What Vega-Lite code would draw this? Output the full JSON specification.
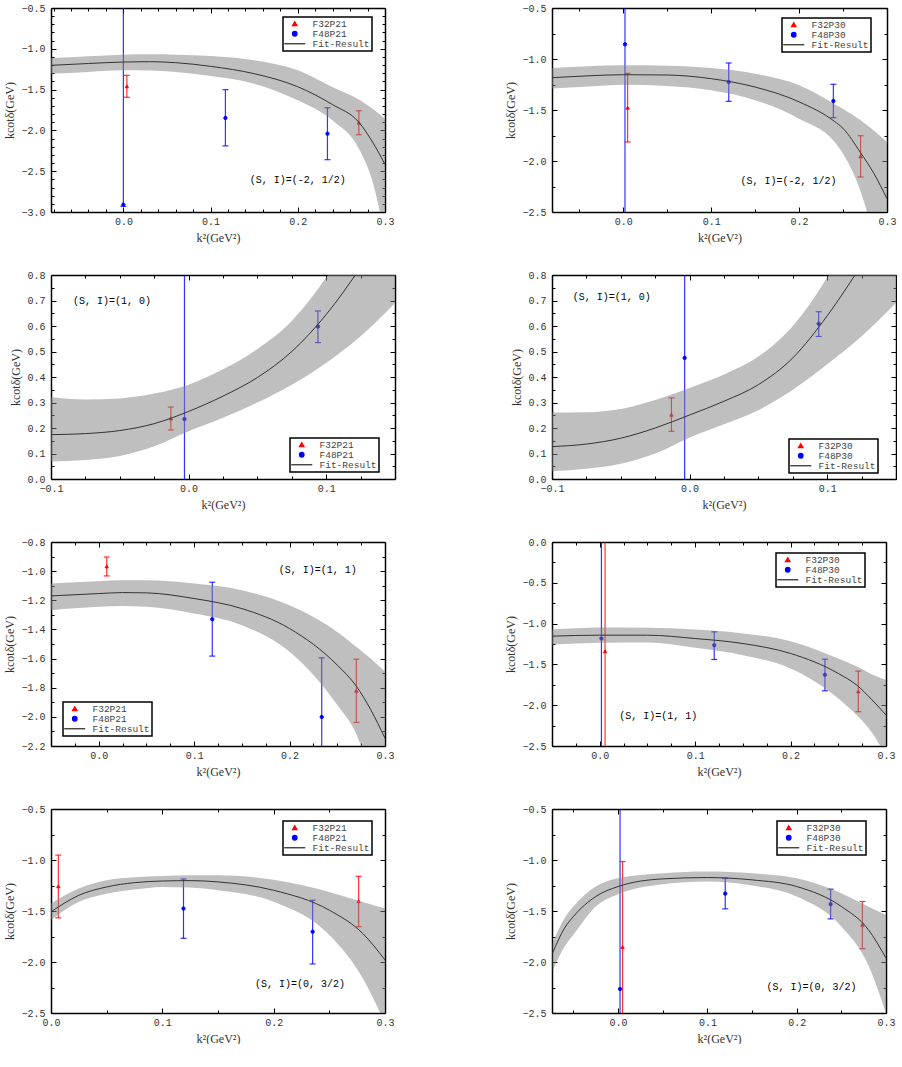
{
"$schema": "https://vega.github.io/schema/vega-lite/v6.json",
"background": "white",
"padding": {"left": 3, "top": 3, "right": 0, "bottom": 0},
"config": {
  "view": {"stroke": null},
  "axis": {"domainColor": "black", "domainWidth": 1.5, "tickColor": "black", "tickWidth": 1, "labelFont": "Liberation Mono", "labelFontSize": 10, "labelColor": "#333333", "titleFont": "Liberation Serif", "titleFontSize": 12, "titleFontWeight": "normal", "titleColor": "#333333", "grid": false, "labelFlush": false, "labelOverlap": false, "labelBound": false},
  "legend": {"labelFont": "Liberation Mono", "labelFontSize": 9.5, "labelColor": "#444444", "strokeColor": "black", "strokeWidth": 1.5, "fillColor": "white", "padding": 2, "rowPadding": -1.5, "symbolSize": 20, "symbolOffset": 5, "labelOffset": 13}
},
"datasets": {
  "pts": [
    {"p":1,"s":"F48P21","k":1,"x":0.0,"y":-2.91,"lo":-2.93,"hi":0.5},
    {"p":1,"s":"F32P21","k":0,"x":0.004,"y":-1.46,"lo":-1.594,"hi":-1.325},
    {"p":1,"s":"F48P21","k":1,"x":0.117,"y":-1.848,"lo":-2.19,"hi":-1.501},
    {"p":1,"s":"F48P21","k":1,"x":0.234,"y":-2.04,"lo":-2.359,"hi":-1.722},
    {"p":1,"s":"F32P21","k":0,"x":0.27,"y":-1.905,"lo":-2.053,"hi":-1.759},
    {"p":2,"s":"F48P30","k":1,"x":0.002,"y":-0.856,"lo":-3.5,"hi":1.0},
    {"p":2,"s":"F32P30","k":0,"x":0.005,"y":-1.477,"lo":-1.814,"hi":-1.14},
    {"p":2,"s":"F48P30","k":1,"x":0.12,"y":-1.225,"lo":-1.415,"hi":-1.039},
    {"p":2,"s":"F48P30","k":1,"x":0.239,"y":-1.412,"lo":-1.575,"hi":-1.248},
    {"p":2,"s":"F32P30","k":0,"x":0.27,"y":-1.954,"lo":-2.157,"hi":-1.752},
    {"p":3,"s":"F32P21","k":0,"x":-0.0129,"y":0.2375,"lo":0.192,"hi":0.282},
    {"p":3,"s":"F48P21","k":1,"x":-0.003,"y":0.235,"lo":-1,"hi":2},
    {"p":3,"s":"F48P21","k":1,"x":0.094,"y":0.598,"lo":0.535,"hi":0.659},
    {"p":4,"s":"F32P30","k":0,"x":-0.0132,"y":0.252,"lo":0.187,"hi":0.318},
    {"p":4,"s":"F48P30","k":1,"x":-0.0036,"y":0.475,"lo":-1,"hi":2},
    {"p":4,"s":"F48P30","k":1,"x":0.0938,"y":0.609,"lo":0.559,"hi":0.656},
    {"p":5,"s":"F32P21","k":0,"x":0.0084,"y":-0.967,"lo":-1.033,"hi":-0.903},
    {"p":5,"s":"F48P21","k":1,"x":0.119,"y":-1.33,"lo":-1.583,"hi":-1.076},
    {"p":5,"s":"F48P21","k":1,"x":0.2337,"y":-2.001,"lo":-2.6,"hi":-1.595},
    {"p":5,"s":"F32P21","k":0,"x":0.27,"y":-1.821,"lo":-2.038,"hi":-1.604},
    {"p":6,"s":"F48P30","k":1,"x":0.0018,"y":-1.183,"lo":-3.5,"hi":1},
    {"p":6,"s":"F32P30","k":0,"x":0.0056,"y":-1.338,"lo":-3.5,"hi":1},
    {"p":6,"s":"F48P30","k":1,"x":0.12,"y":-1.264,"lo":-1.44,"hi":-1.101},
    {"p":6,"s":"F48P30","k":1,"x":0.236,"y":-1.627,"lo":-1.823,"hi":-1.436},
    {"p":6,"s":"F32P30","k":0,"x":0.271,"y":-1.831,"lo":-2.08,"hi":-1.582},
    {"p":7,"s":"F32P21","k":0,"x":0.0066,"y":-1.258,"lo":-1.567,"hi":-0.952},
    {"p":7,"s":"F48P21","k":1,"x":0.119,"y":-1.476,"lo":-1.768,"hi":-1.186},
    {"p":7,"s":"F48P21","k":1,"x":0.235,"y":-1.703,"lo":-2.019,"hi":-1.394},
    {"p":7,"s":"F32P21","k":0,"x":0.2763,"y":-1.404,"lo":-1.654,"hi":-1.16},
    {"p":8,"s":"F48P30","k":1,"x":0.0022,"y":-2.265,"lo":-3.5,"hi":1},
    {"p":8,"s":"F32P30","k":0,"x":0.005,"y":-1.854,"lo":-3.0,"hi":-1.015},
    {"p":8,"s":"F48P30","k":1,"x":0.12,"y":-1.329,"lo":-1.479,"hi":-1.179},
    {"p":8,"s":"F48P30","k":1,"x":0.238,"y":-1.433,"lo":-1.577,"hi":-1.286},
    {"p":8,"s":"F32P30","k":0,"x":0.2736,"y":-1.635,"lo":-1.87,"hi":-1.407}
  ],
  "fit": [
    {"p":1,"x":-0.083,"y":-1.203,"lo":-1.305,"hi":-1.113},
    {"p":1,"x":-0.04,"y":-1.18,"lo":-1.283,"hi":-1.09},
    {"p":1,"x":0,"y":-1.162,"lo":-1.264,"hi":-1.072},
    {"p":1,"x":0.03,"y":-1.158,"lo":-1.265,"hi":-1.068},
    {"p":1,"x":0.06,"y":-1.17,"lo":-1.285,"hi":-1.072},
    {"p":1,"x":0.1,"y":-1.215,"lo":-1.333,"hi":-1.088},
    {"p":1,"x":0.15,"y":-1.305,"lo":-1.427,"hi":-1.141},
    {"p":1,"x":0.2,"y":-1.465,"lo":-1.632,"hi":-1.264},
    {"p":1,"x":0.24,"y":-1.685,"lo":-1.88,"hi":-1.47},
    {"p":1,"x":0.27,"y":-1.9,"lo":-2.224,"hi":-1.62},
    {"p":1,"x":0.285,"y":-2.13,"lo":-2.6,"hi":-1.73},
    {"p":1,"x":0.3,"y":-2.416,"lo":-3.3,"hi":-1.856},
    {"p":2,"x":-0.081,"y":-1.183,"lo":-1.29,"hi":-1.088},
    {"p":2,"x":-0.04,"y":-1.165,"lo":-1.27,"hi":-1.07},
    {"p":2,"x":0,"y":-1.154,"lo":-1.252,"hi":-1.062},
    {"p":2,"x":0.05,"y":-1.157,"lo":-1.265,"hi":-1.065},
    {"p":2,"x":0.1,"y":-1.193,"lo":-1.307,"hi":-1.088},
    {"p":2,"x":0.15,"y":-1.275,"lo":-1.405,"hi":-1.144},
    {"p":2,"x":0.2,"y":-1.42,"lo":-1.585,"hi":-1.258},
    {"p":2,"x":0.24,"y":-1.61,"lo":-1.81,"hi":-1.44},
    {"p":2,"x":0.25,"y":-1.68,"lo":-1.93,"hi":-1.49},
    {"p":2,"x":0.27,"y":-1.92,"lo":-2.3,"hi":-1.6},
    {"p":2,"x":0.285,"y":-2.12,"lo":-2.75,"hi":-1.7},
    {"p":2,"x":0.3,"y":-2.37,"lo":-3.3,"hi":-1.814},
    {"p":3,"x":-0.1,"y":0.174,"lo":0.069,"hi":0.322},
    {"p":3,"x":-0.075,"y":0.178,"lo":0.075,"hi":0.312},
    {"p":3,"x":-0.05,"y":0.19,"lo":0.09,"hi":0.316},
    {"p":3,"x":-0.025,"y":0.217,"lo":0.128,"hi":0.335},
    {"p":3,"x":0,"y":0.265,"lo":0.187,"hi":0.37},
    {"p":3,"x":0.025,"y":0.325,"lo":0.24,"hi":0.43},
    {"p":3,"x":0.05,"y":0.398,"lo":0.3,"hi":0.51},
    {"p":3,"x":0.075,"y":0.5,"lo":0.37,"hi":0.62},
    {"p":3,"x":0.1,"y":0.645,"lo":0.455,"hi":0.79},
    {"p":3,"x":0.125,"y":0.83,"lo":0.56,"hi":1.0},
    {"p":3,"x":0.15,"y":1.04,"lo":0.69,"hi":1.25},
    {"p":4,"x":-0.1,"y":0.127,"lo":0.03,"hi":0.261},
    {"p":4,"x":-0.075,"y":0.137,"lo":0.04,"hi":0.262},
    {"p":4,"x":-0.05,"y":0.16,"lo":0.06,"hi":0.275},
    {"p":4,"x":-0.025,"y":0.2,"lo":0.1,"hi":0.31},
    {"p":4,"x":0,"y":0.251,"lo":0.163,"hi":0.357},
    {"p":4,"x":0.025,"y":0.305,"lo":0.215,"hi":0.41},
    {"p":4,"x":0.05,"y":0.37,"lo":0.27,"hi":0.48},
    {"p":4,"x":0.075,"y":0.475,"lo":0.35,"hi":0.6},
    {"p":4,"x":0.1,"y":0.64,"lo":0.45,"hi":0.79},
    {"p":4,"x":0.125,"y":0.84,"lo":0.56,"hi":1.03},
    {"p":4,"x":0.15,"y":1.06,"lo":0.69,"hi":1.28},
    {"p":5,"x":-0.05,"y":-1.17,"lo":-1.268,"hi":-1.085},
    {"p":5,"x":0,"y":-1.154,"lo":-1.245,"hi":-1.069},
    {"p":5,"x":0.025,"y":-1.147,"lo":-1.24,"hi":-1.063},
    {"p":5,"x":0.05,"y":-1.149,"lo":-1.245,"hi":-1.063},
    {"p":5,"x":0.1,"y":-1.188,"lo":-1.291,"hi":-1.085},
    {"p":5,"x":0.15,"y":-1.257,"lo":-1.371,"hi":-1.131},
    {"p":5,"x":0.2,"y":-1.394,"lo":-1.554,"hi":-1.234},
    {"p":5,"x":0.25,"y":-1.645,"lo":-1.919,"hi":-1.417},
    {"p":5,"x":0.27,"y":-1.79,"lo":-2.12,"hi":-1.52},
    {"p":5,"x":0.285,"y":-1.95,"lo":-2.4,"hi":-1.6},
    {"p":5,"x":0.3,"y":-2.147,"lo":-2.7,"hi":-1.69},
    {"p":6,"x":-0.05,"y":-1.154,"lo":-1.256,"hi":-1.073},
    {"p":6,"x":0,"y":-1.142,"lo":-1.236,"hi":-1.048},
    {"p":6,"x":0.05,"y":-1.142,"lo":-1.232,"hi":-1.052},
    {"p":6,"x":0.1,"y":-1.183,"lo":-1.297,"hi":-1.073},
    {"p":6,"x":0.15,"y":-1.244,"lo":-1.387,"hi":-1.12},
    {"p":6,"x":0.2,"y":-1.366,"lo":-1.55,"hi":-1.215},
    {"p":6,"x":0.25,"y":-1.611,"lo":-1.917,"hi":-1.427},
    {"p":6,"x":0.27,"y":-1.76,"lo":-2.13,"hi":-1.53},
    {"p":6,"x":0.285,"y":-1.93,"lo":-2.33,"hi":-1.62},
    {"p":6,"x":0.3,"y":-2.12,"lo":-2.62,"hi":-1.692},
    {"p":7,"x":0,"y":-1.508,"lo":-1.589,"hi":-1.427},
    {"p":7,"x":0.025,"y":-1.346,"lo":-1.41,"hi":-1.28},
    {"p":7,"x":0.05,"y":-1.264,"lo":-1.33,"hi":-1.199},
    {"p":7,"x":0.075,"y":-1.222,"lo":-1.29,"hi":-1.17},
    {"p":7,"x":0.1,"y":-1.206,"lo":-1.264,"hi":-1.157},
    {"p":7,"x":0.125,"y":-1.202,"lo":-1.27,"hi":-1.15},
    {"p":7,"x":0.15,"y":-1.215,"lo":-1.297,"hi":-1.15},
    {"p":7,"x":0.2,"y":-1.297,"lo":-1.41,"hi":-1.193},
    {"p":7,"x":0.25,"y":-1.492,"lo":-1.736,"hi":-1.313},
    {"p":7,"x":0.28,"y":-1.72,"lo":-2.159,"hi":-1.411},
    {"p":7,"x":0.3,"y":-1.98,"lo":-2.6,"hi":-1.476},
    {"p":8,"x":-0.0734,"y":-1.913,"lo":-2.092,"hi":-1.815},
    {"p":8,"x":-0.06,"y":-1.668,"lo":-1.848,"hi":-1.57},
    {"p":8,"x":-0.05,"y":-1.554,"lo":-1.733,"hi":-1.456},
    {"p":8,"x":-0.025,"y":-1.358,"lo":-1.456,"hi":-1.26},
    {"p":8,"x":0,"y":-1.26,"lo":-1.335,"hi":-1.179},
    {"p":8,"x":0.05,"y":-1.185,"lo":-1.237,"hi":-1.13},
    {"p":8,"x":0.1,"y":-1.172,"lo":-1.211,"hi":-1.113},
    {"p":8,"x":0.15,"y":-1.195,"lo":-1.25,"hi":-1.13},
    {"p":8,"x":0.2,"y":-1.26,"lo":-1.358,"hi":-1.179},
    {"p":8,"x":0.25,"y":-1.456,"lo":-1.652,"hi":-1.325},
    {"p":8,"x":0.28,"y":-1.68,"lo":-2.027,"hi":-1.456},
    {"p":8,"x":0.3,"y":-1.962,"lo":-2.5,"hi":-1.538}
  ],
  "ann": [
    {"p":1,"x":0.2,"y":-2.612,"t":"(S, I)=(-2, 1/2)"},
    {"p":2,"x":0.188,"y":-2.199,"t":"(S, I)=(-2, 1/2)"},
    {"p":3,"x":-0.0557,"y":0.698,"t":"(S, I)=(1, 0)"},
    {"p":4,"x":-0.0566,"y":0.715,"t":"(S, I)=(1, 0)"},
    {"p":5,"x":0.2295,"y":-0.994,"t":"(S, I)=(1, 1)"},
    {"p":6,"x":0.0613,"y":-2.129,"t":"(S, I)=(1, 1)"},
    {"p":7,"x":0.2237,"y":-2.217,"t":"(S, I)=(0, 3/2)"},
    {"p":8,"x":0.2166,"y":-2.242,"t":"(S, I)=(0, 3/2)"}
  ]
},
"columns": 2,
"spacing": {"row": 63, "column": 157},
"bounds": "flush",
"resolve": {"scale": {"fill": "independent", "stroke": "independent", "shape": "independent"}, "legend": {"fill": "independent", "stroke": "independent", "shape": "independent"}},
"concat": [
{
"width": 334, "height": 204,
"resolve": {"axis": {"x": "independent", "y": "independent"}},
"encoding": {"x": {"field": "x", "type": "quantitative", "scale": {"domain": [-0.083, 0.3], "nice": false, "zero": false}, "axis": null}},
"layer": [
 {"data": {"name": "pts"}, "transform": [{"filter": "datum.p==1"}], "mark": {"type": "rule", "clip": true, "strokeWidth": 1.2, "opacity": 0.8}, "encoding": {
   "x": {"field": "x", "type": "quantitative", "title": "k²(GeV²)", "scale": {"domain": [-0.083, 0.3], "nice": false, "zero": false}, "axis": {"orient": "bottom", "values": [-0.08,-0.06,-0.04,-0.02,0,0.02,0.04,0.06,0.08,0.1,0.12,0.14,0.16,0.18,0.2,0.22,0.24,0.26,0.28,0.3], "labelExpr": "abs(datum.value*10-round(datum.value*10))<0.001 ? format(datum.value,'.1f') : ''", "tickSize": {"condition": {"test": "abs(datum.value*10-round(datum.value*10))<0.001", "value": -5}, "value": -3}, "labelPadding": 9}},
   "y": {"field": "lo", "type": "quantitative", "title": "kcotδ(GeV)", "scale": {"domain": [-3, -0.5], "nice": false, "zero": false}, "axis": {"orient": "left", "values": [-3,-2.9,-2.8,-2.7,-2.6,-2.5,-2.4,-2.3,-2.2,-2.1,-2,-1.9,-1.8,-1.7,-1.6,-1.5,-1.4,-1.3,-1.2,-1.1,-1,-0.9,-0.8,-0.7,-0.6,-0.5], "labelExpr": "abs(datum.value*2-round(datum.value*2))<0.001 ? format(datum.value,'.1f') : ''", "tickSize": {"condition": {"test": "abs(datum.value*2-round(datum.value*2))<0.001", "value": -5}, "value": -3}, "labelPadding": 11}},
   "y2": {"field": "hi"}, "color": {"condition": {"test": "datum.k==0", "value": "#ff0000"}, "value": "#0000ff"}}},
 {"data": {"name": "pts"}, "transform": [{"filter": "datum.p==1"}, {"fold": ["lo", "hi"], "as": ["end", "v"]}], "mark": {"type": "tick", "orient": "horizontal", "clip": true, "size": 6, "thickness": 1.2, "opacity": 0.8}, "encoding": {"y": {"field": "v", "type": "quantitative", "scale": {"domain": [-3, -0.5], "nice": false, "zero": false}, "axis": null}, "color": {"condition": {"test": "datum.k==0", "value": "#ff0000"}, "value": "#0000ff"}}},
 {"data": {"name": "pts"}, "transform": [{"filter": "datum.p==1"}], "mark": {"type": "point", "size": 12, "strokeWidth": 0.8, "opacity": 1, "clip": true}, "encoding": {"y": {"field": "y", "type": "quantitative", "scale": {"domain": [-3, -0.5], "nice": false, "zero": false}, "axis": null},
   "fill": {"field": "s", "type": "nominal", "scale": {"domain": ["F32P21", "F48P21", "Fit-Result"], "range": ["#ff0000", "#0000ff", "#333333"]}, "legend": {"orient": "none", "legendX": 232, "legendY": 9, "title": null, "symbolStrokeWidth": 1.3}},
   "stroke": {"field": "s", "type": "nominal", "scale": {"domain": ["F32P21", "F48P21", "Fit-Result"], "range": ["#ff0000", "#0000ff", "#333333"]}, "legend": {"orient": "none", "legendX": 232, "legendY": 9, "title": null, "symbolStrokeWidth": 1.3}},
   "shape": {"field": "s", "type": "nominal", "scale": {"domain": ["F32P21", "F48P21", "Fit-Result"], "range": ["triangle-up", "circle", "M-4.7,0H4.7"]}, "legend": {"orient": "none", "legendX": 232, "legendY": 9, "title": null, "symbolStrokeWidth": 1.3}}}},
 {"data": {"name": "fit"}, "transform": [{"filter": "datum.p==1"}], "mark": {"type": "area", "clip": true, "color": "#808080", "opacity": 0.5, "interpolate": "monotone"}, "encoding": {"y": {"field": "lo", "type": "quantitative", "scale": {"domain": [-3, -0.5], "nice": false, "zero": false}, "axis": null}, "y2": {"field": "hi"}}},
 {"data": {"name": "fit"}, "transform": [{"filter": "datum.p==1"}], "mark": {"type": "line", "clip": true, "color": "#333333", "strokeWidth": 1, "interpolate": "monotone"}, "encoding": {"y": {"field": "y", "type": "quantitative", "scale": {"domain": [-3, -0.5], "nice": false, "zero": false}, "axis": null}}},
 {"data": {"name": "ann"}, "transform": [{"filter": "datum.p==1"}], "mark": {"type": "text", "font": "Liberation Mono", "fontSize": 10, "color": "black"}, "encoding": {
   "x": {"field": "x", "type": "quantitative", "scale": {"domain": [-0.083, 0.3], "nice": false, "zero": false}, "axis": {"orient": "top", "values": [-0.08,-0.06,-0.04,-0.02,0,0.02,0.04,0.06,0.08,0.1,0.12,0.14,0.16,0.18,0.2,0.22,0.24,0.26,0.28,0.3], "labels": false, "title": null, "tickSize": {"condition": {"test": "abs(datum.value*10-round(datum.value*10))<0.001", "value": -5}, "value": -3}}},
   "y": {"field": "y", "type": "quantitative", "scale": {"domain": [-3, -0.5], "nice": false, "zero": false}, "axis": {"orient": "right", "values": [-3,-2.9,-2.8,-2.7,-2.6,-2.5,-2.4,-2.3,-2.2,-2.1,-2,-1.9,-1.8,-1.7,-1.6,-1.5,-1.4,-1.3,-1.2,-1.1,-1,-0.9,-0.8,-0.7,-0.6,-0.5], "labels": false, "title": null, "tickSize": {"condition": {"test": "abs(datum.value*2-round(datum.value*2))<0.001", "value": -5}, "value": -3}}},
   "text": {"field": "t"}}}
]
},
{
"width": 335, "height": 204,
"resolve": {"axis": {"x": "independent", "y": "independent"}},
"encoding": {"x": {"field": "x", "type": "quantitative", "scale": {"domain": [-0.081, 0.3], "nice": false, "zero": false}, "axis": null}},
"layer": [
 {"data": {"name": "pts"}, "transform": [{"filter": "datum.p==2"}], "mark": {"type": "rule", "clip": true, "strokeWidth": 1.2, "opacity": 0.8}, "encoding": {
   "x": {"field": "x", "type": "quantitative", "title": "k²(GeV²)", "scale": {"domain": [-0.081, 0.3], "nice": false, "zero": false}, "axis": {"orient": "bottom", "values": [-0.05,0,0.05,0.1,0.15,0.2,0.25,0.3], "labelExpr": "abs(datum.value*10-round(datum.value*10))<0.001 ? format(datum.value,'.1f') : ''", "tickSize": {"condition": {"test": "abs(datum.value*10-round(datum.value*10))<0.001", "value": -5}, "value": -3}, "labelPadding": 9}},
   "y": {"field": "lo", "type": "quantitative", "title": "kcotδ(GeV)", "scale": {"domain": [-2.5, -0.5], "nice": false, "zero": false}, "axis": {"orient": "left", "values": [-2.5,-2.25,-2,-1.75,-1.5,-1.25,-1,-0.75,-0.5], "labelExpr": "abs(datum.value*2-round(datum.value*2))<0.001 ? format(datum.value,'.1f') : ''", "tickSize": {"condition": {"test": "abs(datum.value*2-round(datum.value*2))<0.001", "value": -5}, "value": -3}, "labelPadding": 11}},
   "y2": {"field": "hi"}, "color": {"condition": {"test": "datum.k==0", "value": "#ff0000"}, "value": "#0000ff"}}},
 {"data": {"name": "pts"}, "transform": [{"filter": "datum.p==2"}, {"fold": ["lo", "hi"], "as": ["end", "v"]}], "mark": {"type": "tick", "orient": "horizontal", "clip": true, "size": 6, "thickness": 1.2, "opacity": 0.8}, "encoding": {"y": {"field": "v", "type": "quantitative", "scale": {"domain": [-2.5, -0.5], "nice": false, "zero": false}, "axis": null}, "color": {"condition": {"test": "datum.k==0", "value": "#ff0000"}, "value": "#0000ff"}}},
 {"data": {"name": "pts"}, "transform": [{"filter": "datum.p==2"}], "mark": {"type": "point", "size": 12, "strokeWidth": 0.8, "opacity": 1, "clip": true}, "encoding": {"y": {"field": "y", "type": "quantitative", "scale": {"domain": [-2.5, -0.5], "nice": false, "zero": false}, "axis": null},
   "fill": {"field": "s", "type": "nominal", "scale": {"domain": ["F32P30", "F48P30", "Fit-Result"], "range": ["#ff0000", "#0000ff", "#333333"]}, "legend": {"orient": "none", "legendX": 230, "legendY": 10, "title": null, "symbolStrokeWidth": 1.3}},
   "stroke": {"field": "s", "type": "nominal", "scale": {"domain": ["F32P30", "F48P30", "Fit-Result"], "range": ["#ff0000", "#0000ff", "#333333"]}, "legend": {"orient": "none", "legendX": 230, "legendY": 10, "title": null, "symbolStrokeWidth": 1.3}},
   "shape": {"field": "s", "type": "nominal", "scale": {"domain": ["F32P30", "F48P30", "Fit-Result"], "range": ["triangle-up", "circle", "M-4.7,0H4.7"]}, "legend": {"orient": "none", "legendX": 230, "legendY": 10, "title": null, "symbolStrokeWidth": 1.3}}}},
 {"data": {"name": "fit"}, "transform": [{"filter": "datum.p==2"}], "mark": {"type": "area", "clip": true, "color": "#808080", "opacity": 0.5, "interpolate": "monotone"}, "encoding": {"y": {"field": "lo", "type": "quantitative", "scale": {"domain": [-2.5, -0.5], "nice": false, "zero": false}, "axis": null}, "y2": {"field": "hi"}}},
 {"data": {"name": "fit"}, "transform": [{"filter": "datum.p==2"}], "mark": {"type": "line", "clip": true, "color": "#333333", "strokeWidth": 1, "interpolate": "monotone"}, "encoding": {"y": {"field": "y", "type": "quantitative", "scale": {"domain": [-2.5, -0.5], "nice": false, "zero": false}, "axis": null}}},
 {"data": {"name": "ann"}, "transform": [{"filter": "datum.p==2"}], "mark": {"type": "text", "font": "Liberation Mono", "fontSize": 10, "color": "black"}, "encoding": {
   "x": {"field": "x", "type": "quantitative", "scale": {"domain": [-0.081, 0.3], "nice": false, "zero": false}, "axis": {"orient": "top", "values": [-0.05,0,0.05,0.1,0.15,0.2,0.25,0.3], "labels": false, "title": null, "tickSize": {"condition": {"test": "abs(datum.value*10-round(datum.value*10))<0.001", "value": -5}, "value": -3}}},
   "y": {"field": "y", "type": "quantitative", "scale": {"domain": [-2.5, -0.5], "nice": false, "zero": false}, "axis": {"orient": "right", "values": [-2.5,-2.25,-2,-1.75,-1.5,-1.25,-1,-0.75,-0.5], "labels": false, "title": null, "tickSize": {"condition": {"test": "abs(datum.value*2-round(datum.value*2))<0.001", "value": -5}, "value": -3}}},
   "text": {"field": "t"}}}
]
},
{
"width": 344, "height": 204,
"resolve": {"axis": {"x": "independent", "y": "independent"}},
"encoding": {"x": {"field": "x", "type": "quantitative", "scale": {"domain": [-0.1, 0.15], "nice": false, "zero": false}, "axis": null}},
"layer": [
 {"data": {"name": "pts"}, "transform": [{"filter": "datum.p==3"}], "mark": {"type": "rule", "clip": true, "strokeWidth": 1.2, "opacity": 0.8}, "encoding": {
   "x": {"field": "x", "type": "quantitative", "title": "k²(GeV²)", "scale": {"domain": [-0.1, 0.15], "nice": false, "zero": false}, "axis": {"orient": "bottom", "values": [-0.1,-0.075,-0.05,-0.025,0,0.025,0.05,0.075,0.1,0.125,0.15], "labelExpr": "abs(datum.value*10-round(datum.value*10))<0.001 ? format(datum.value,'.1f') : ''", "tickSize": {"condition": {"test": "abs(datum.value*10-round(datum.value*10))<0.001", "value": -5}, "value": -3}, "labelPadding": 9}},
   "y": {"field": "lo", "type": "quantitative", "title": "kcotδ(GeV)", "scale": {"domain": [0, 0.8], "nice": false, "zero": false}, "axis": {"orient": "left", "values": [0,0.05,0.1,0.15,0.2,0.25,0.3,0.35,0.4,0.45,0.5,0.55,0.6,0.65,0.7,0.75,0.8], "labelExpr": "abs(datum.value*10-round(datum.value*10))<0.001 ? format(datum.value,'.1f') : ''", "tickSize": {"condition": {"test": "abs(datum.value*10-round(datum.value*10))<0.001", "value": -5}, "value": -3}, "labelPadding": 11}},
   "y2": {"field": "hi"}, "color": {"condition": {"test": "datum.k==0", "value": "#ff0000"}, "value": "#0000ff"}}},
 {"data": {"name": "pts"}, "transform": [{"filter": "datum.p==3"}, {"fold": ["lo", "hi"], "as": ["end", "v"]}], "mark": {"type": "tick", "orient": "horizontal", "clip": true, "size": 6, "thickness": 1.2, "opacity": 0.8}, "encoding": {"y": {"field": "v", "type": "quantitative", "scale": {"domain": [0, 0.8], "nice": false, "zero": false}, "axis": null}, "color": {"condition": {"test": "datum.k==0", "value": "#ff0000"}, "value": "#0000ff"}}},
 {"data": {"name": "pts"}, "transform": [{"filter": "datum.p==3"}], "mark": {"type": "point", "size": 12, "strokeWidth": 0.8, "opacity": 1, "clip": true}, "encoding": {"y": {"field": "y", "type": "quantitative", "scale": {"domain": [0, 0.8], "nice": false, "zero": false}, "axis": null},
   "fill": {"field": "s", "type": "nominal", "scale": {"domain": ["F32P21", "F48P21", "Fit-Result"], "range": ["#ff0000", "#0000ff", "#333333"]}, "legend": {"orient": "none", "legendX": 239, "legendY": 163, "title": null, "symbolStrokeWidth": 1.3}},
   "stroke": {"field": "s", "type": "nominal", "scale": {"domain": ["F32P21", "F48P21", "Fit-Result"], "range": ["#ff0000", "#0000ff", "#333333"]}, "legend": {"orient": "none", "legendX": 239, "legendY": 163, "title": null, "symbolStrokeWidth": 1.3}},
   "shape": {"field": "s", "type": "nominal", "scale": {"domain": ["F32P21", "F48P21", "Fit-Result"], "range": ["triangle-up", "circle", "M-4.7,0H4.7"]}, "legend": {"orient": "none", "legendX": 239, "legendY": 163, "title": null, "symbolStrokeWidth": 1.3}}}},
 {"data": {"name": "fit"}, "transform": [{"filter": "datum.p==3"}], "mark": {"type": "area", "clip": true, "color": "#808080", "opacity": 0.5, "interpolate": "monotone"}, "encoding": {"y": {"field": "lo", "type": "quantitative", "scale": {"domain": [0, 0.8], "nice": false, "zero": false}, "axis": null}, "y2": {"field": "hi"}}},
 {"data": {"name": "fit"}, "transform": [{"filter": "datum.p==3"}], "mark": {"type": "line", "clip": true, "color": "#333333", "strokeWidth": 1, "interpolate": "monotone"}, "encoding": {"y": {"field": "y", "type": "quantitative", "scale": {"domain": [0, 0.8], "nice": false, "zero": false}, "axis": null}}},
 {"data": {"name": "ann"}, "transform": [{"filter": "datum.p==3"}], "mark": {"type": "text", "font": "Liberation Mono", "fontSize": 10, "color": "black"}, "encoding": {
   "x": {"field": "x", "type": "quantitative", "scale": {"domain": [-0.1, 0.15], "nice": false, "zero": false}, "axis": {"orient": "top", "values": [-0.1,-0.075,-0.05,-0.025,0,0.025,0.05,0.075,0.1,0.125,0.15], "labels": false, "title": null, "tickSize": {"condition": {"test": "abs(datum.value*10-round(datum.value*10))<0.001", "value": -5}, "value": -3}}},
   "y": {"field": "y", "type": "quantitative", "scale": {"domain": [0, 0.8], "nice": false, "zero": false}, "axis": {"orient": "right", "values": [0,0.05,0.1,0.15,0.2,0.25,0.3,0.35,0.4,0.45,0.5,0.55,0.6,0.65,0.7,0.75,0.8], "labels": false, "title": null, "tickSize": {"condition": {"test": "abs(datum.value*10-round(datum.value*10))<0.001", "value": -5}, "value": -3}}},
   "text": {"field": "t"}}}
]
},
{
"width": 344, "height": 204,
"resolve": {"axis": {"x": "independent", "y": "independent"}},
"encoding": {"x": {"field": "x", "type": "quantitative", "scale": {"domain": [-0.1, 0.15], "nice": false, "zero": false}, "axis": null}},
"layer": [
 {"data": {"name": "pts"}, "transform": [{"filter": "datum.p==4"}], "mark": {"type": "rule", "clip": true, "strokeWidth": 1.2, "opacity": 0.8}, "encoding": {
   "x": {"field": "x", "type": "quantitative", "title": "k²(GeV²)", "scale": {"domain": [-0.1, 0.15], "nice": false, "zero": false}, "axis": {"orient": "bottom", "values": [-0.1,-0.075,-0.05,-0.025,0,0.025,0.05,0.075,0.1,0.125,0.15], "labelExpr": "abs(datum.value*10-round(datum.value*10))<0.001 ? format(datum.value,'.1f') : ''", "tickSize": {"condition": {"test": "abs(datum.value*10-round(datum.value*10))<0.001", "value": -5}, "value": -3}, "labelPadding": 9}},
   "y": {"field": "lo", "type": "quantitative", "title": "kcotδ(GeV)", "scale": {"domain": [0, 0.8], "nice": false, "zero": false}, "axis": {"orient": "left", "values": [0,0.05,0.1,0.15,0.2,0.25,0.3,0.35,0.4,0.45,0.5,0.55,0.6,0.65,0.7,0.75,0.8], "labelExpr": "abs(datum.value*10-round(datum.value*10))<0.001 ? format(datum.value,'.1f') : ''", "tickSize": {"condition": {"test": "abs(datum.value*10-round(datum.value*10))<0.001", "value": -5}, "value": -3}, "labelPadding": 11}},
   "y2": {"field": "hi"}, "color": {"condition": {"test": "datum.k==0", "value": "#ff0000"}, "value": "#0000ff"}}},
 {"data": {"name": "pts"}, "transform": [{"filter": "datum.p==4"}, {"fold": ["lo", "hi"], "as": ["end", "v"]}], "mark": {"type": "tick", "orient": "horizontal", "clip": true, "size": 6, "thickness": 1.2, "opacity": 0.8}, "encoding": {"y": {"field": "v", "type": "quantitative", "scale": {"domain": [0, 0.8], "nice": false, "zero": false}, "axis": null}, "color": {"condition": {"test": "datum.k==0", "value": "#ff0000"}, "value": "#0000ff"}}},
 {"data": {"name": "pts"}, "transform": [{"filter": "datum.p==4"}], "mark": {"type": "point", "size": 12, "strokeWidth": 0.8, "opacity": 1, "clip": true}, "encoding": {"y": {"field": "y", "type": "quantitative", "scale": {"domain": [0, 0.8], "nice": false, "zero": false}, "axis": null},
   "fill": {"field": "s", "type": "nominal", "scale": {"domain": ["F32P30", "F48P30", "Fit-Result"], "range": ["#ff0000", "#0000ff", "#333333"]}, "legend": {"orient": "none", "legendX": 237, "legendY": 164, "title": null, "symbolStrokeWidth": 1.3}},
   "stroke": {"field": "s", "type": "nominal", "scale": {"domain": ["F32P30", "F48P30", "Fit-Result"], "range": ["#ff0000", "#0000ff", "#333333"]}, "legend": {"orient": "none", "legendX": 237, "legendY": 164, "title": null, "symbolStrokeWidth": 1.3}},
   "shape": {"field": "s", "type": "nominal", "scale": {"domain": ["F32P30", "F48P30", "Fit-Result"], "range": ["triangle-up", "circle", "M-4.7,0H4.7"]}, "legend": {"orient": "none", "legendX": 237, "legendY": 164, "title": null, "symbolStrokeWidth": 1.3}}}},
 {"data": {"name": "fit"}, "transform": [{"filter": "datum.p==4"}], "mark": {"type": "area", "clip": true, "color": "#808080", "opacity": 0.5, "interpolate": "monotone"}, "encoding": {"y": {"field": "lo", "type": "quantitative", "scale": {"domain": [0, 0.8], "nice": false, "zero": false}, "axis": null}, "y2": {"field": "hi"}}},
 {"data": {"name": "fit"}, "transform": [{"filter": "datum.p==4"}], "mark": {"type": "line", "clip": true, "color": "#333333", "strokeWidth": 1, "interpolate": "monotone"}, "encoding": {"y": {"field": "y", "type": "quantitative", "scale": {"domain": [0, 0.8], "nice": false, "zero": false}, "axis": null}}},
 {"data": {"name": "ann"}, "transform": [{"filter": "datum.p==4"}], "mark": {"type": "text", "font": "Liberation Mono", "fontSize": 10, "color": "black"}, "encoding": {
   "x": {"field": "x", "type": "quantitative", "scale": {"domain": [-0.1, 0.15], "nice": false, "zero": false}, "axis": {"orient": "top", "values": [-0.1,-0.075,-0.05,-0.025,0,0.025,0.05,0.075,0.1,0.125,0.15], "labels": false, "title": null, "tickSize": {"condition": {"test": "abs(datum.value*10-round(datum.value*10))<0.001", "value": -5}, "value": -3}}},
   "y": {"field": "y", "type": "quantitative", "scale": {"domain": [0, 0.8], "nice": false, "zero": false}, "axis": {"orient": "right", "values": [0,0.05,0.1,0.15,0.2,0.25,0.3,0.35,0.4,0.45,0.5,0.55,0.6,0.65,0.7,0.75,0.8], "labels": false, "title": null, "tickSize": {"condition": {"test": "abs(datum.value*10-round(datum.value*10))<0.001", "value": -5}, "value": -3}}},
   "text": {"field": "t"}}}
]
},
{
"width": 334, "height": 204,
"resolve": {"axis": {"x": "independent", "y": "independent"}},
"encoding": {"x": {"field": "x", "type": "quantitative", "scale": {"domain": [-0.05, 0.3], "nice": false, "zero": false}, "axis": null}},
"layer": [
 {"data": {"name": "pts"}, "transform": [{"filter": "datum.p==5"}], "mark": {"type": "rule", "clip": true, "strokeWidth": 1.2, "opacity": 0.8}, "encoding": {
   "x": {"field": "x", "type": "quantitative", "title": "k²(GeV²)", "scale": {"domain": [-0.05, 0.3], "nice": false, "zero": false}, "axis": {"orient": "bottom", "values": [-0.05,-0.025,0,0.025,0.05,0.075,0.1,0.125,0.15,0.175,0.2,0.225,0.25,0.275,0.3], "labelExpr": "abs(datum.value*10-round(datum.value*10))<0.001 ? format(datum.value,'.1f') : ''", "tickSize": {"condition": {"test": "abs(datum.value*10-round(datum.value*10))<0.001", "value": -5}, "value": -3}, "labelPadding": 9}},
   "y": {"field": "lo", "type": "quantitative", "title": "kcotδ(GeV)", "scale": {"domain": [-2.2, -0.8], "nice": false, "zero": false}, "axis": {"orient": "left", "values": [-2.2,-2.1,-2,-1.9,-1.8,-1.7,-1.6,-1.5,-1.4,-1.3,-1.2,-1.1,-1,-0.9,-0.8], "labelExpr": "abs(datum.value*5-round(datum.value*5))<0.001 ? format(datum.value,'.1f') : ''", "tickSize": {"condition": {"test": "abs(datum.value*5-round(datum.value*5))<0.001", "value": -5}, "value": -3}, "labelPadding": 11}},
   "y2": {"field": "hi"}, "color": {"condition": {"test": "datum.k==0", "value": "#ff0000"}, "value": "#0000ff"}}},
 {"data": {"name": "pts"}, "transform": [{"filter": "datum.p==5"}, {"fold": ["lo", "hi"], "as": ["end", "v"]}], "mark": {"type": "tick", "orient": "horizontal", "clip": true, "size": 6, "thickness": 1.2, "opacity": 0.8}, "encoding": {"y": {"field": "v", "type": "quantitative", "scale": {"domain": [-2.2, -0.8], "nice": false, "zero": false}, "axis": null}, "color": {"condition": {"test": "datum.k==0", "value": "#ff0000"}, "value": "#0000ff"}}},
 {"data": {"name": "pts"}, "transform": [{"filter": "datum.p==5"}], "mark": {"type": "point", "size": 12, "strokeWidth": 0.8, "opacity": 1, "clip": true}, "encoding": {"y": {"field": "y", "type": "quantitative", "scale": {"domain": [-2.2, -0.8], "nice": false, "zero": false}, "axis": null},
   "fill": {"field": "s", "type": "nominal", "scale": {"domain": ["F32P21", "F48P21", "Fit-Result"], "range": ["#ff0000", "#0000ff", "#333333"]}, "legend": {"orient": "none", "legendX": 12, "legendY": 160, "title": null, "symbolStrokeWidth": 1.3}},
   "stroke": {"field": "s", "type": "nominal", "scale": {"domain": ["F32P21", "F48P21", "Fit-Result"], "range": ["#ff0000", "#0000ff", "#333333"]}, "legend": {"orient": "none", "legendX": 12, "legendY": 160, "title": null, "symbolStrokeWidth": 1.3}},
   "shape": {"field": "s", "type": "nominal", "scale": {"domain": ["F32P21", "F48P21", "Fit-Result"], "range": ["triangle-up", "circle", "M-4.7,0H4.7"]}, "legend": {"orient": "none", "legendX": 12, "legendY": 160, "title": null, "symbolStrokeWidth": 1.3}}}},
 {"data": {"name": "fit"}, "transform": [{"filter": "datum.p==5"}], "mark": {"type": "area", "clip": true, "color": "#808080", "opacity": 0.5, "interpolate": "monotone"}, "encoding": {"y": {"field": "lo", "type": "quantitative", "scale": {"domain": [-2.2, -0.8], "nice": false, "zero": false}, "axis": null}, "y2": {"field": "hi"}}},
 {"data": {"name": "fit"}, "transform": [{"filter": "datum.p==5"}], "mark": {"type": "line", "clip": true, "color": "#333333", "strokeWidth": 1, "interpolate": "monotone"}, "encoding": {"y": {"field": "y", "type": "quantitative", "scale": {"domain": [-2.2, -0.8], "nice": false, "zero": false}, "axis": null}}},
 {"data": {"name": "ann"}, "transform": [{"filter": "datum.p==5"}], "mark": {"type": "text", "font": "Liberation Mono", "fontSize": 10, "color": "black"}, "encoding": {
   "x": {"field": "x", "type": "quantitative", "scale": {"domain": [-0.05, 0.3], "nice": false, "zero": false}, "axis": {"orient": "top", "values": [-0.05,-0.025,0,0.025,0.05,0.075,0.1,0.125,0.15,0.175,0.2,0.225,0.25,0.275,0.3], "labels": false, "title": null, "tickSize": {"condition": {"test": "abs(datum.value*10-round(datum.value*10))<0.001", "value": -5}, "value": -3}}},
   "y": {"field": "y", "type": "quantitative", "scale": {"domain": [-2.2, -0.8], "nice": false, "zero": false}, "axis": {"orient": "right", "values": [-2.2,-2.1,-2,-1.9,-1.8,-1.7,-1.6,-1.5,-1.4,-1.3,-1.2,-1.1,-1,-0.9,-0.8], "labels": false, "title": null, "tickSize": {"condition": {"test": "abs(datum.value*5-round(datum.value*5))<0.001", "value": -5}, "value": -3}}},
   "text": {"field": "t"}}}
]
},
{
"width": 334, "height": 204,
"resolve": {"axis": {"x": "independent", "y": "independent"}},
"encoding": {"x": {"field": "x", "type": "quantitative", "scale": {"domain": [-0.05, 0.3], "nice": false, "zero": false}, "axis": null}},
"layer": [
 {"data": {"name": "pts"}, "transform": [{"filter": "datum.p==6"}], "mark": {"type": "rule", "clip": true, "strokeWidth": 1.2, "opacity": 0.8}, "encoding": {
   "x": {"field": "x", "type": "quantitative", "title": "k²(GeV²)", "scale": {"domain": [-0.05, 0.3], "nice": false, "zero": false}, "axis": {"orient": "bottom", "values": [-0.05,-0.025,0,0.025,0.05,0.075,0.1,0.125,0.15,0.175,0.2,0.225,0.25,0.275,0.3], "labelExpr": "abs(datum.value*10-round(datum.value*10))<0.001 ? format(datum.value,'.1f') : ''", "tickSize": {"condition": {"test": "abs(datum.value*10-round(datum.value*10))<0.001", "value": -5}, "value": -3}, "labelPadding": 9}},
   "y": {"field": "lo", "type": "quantitative", "title": "kcotδ(GeV)", "scale": {"domain": [-2.5, 0], "nice": false, "zero": false}, "axis": {"orient": "left", "values": [-2.5,-2.25,-2,-1.75,-1.5,-1.25,-1,-0.75,-0.5,-0.25,0], "labelExpr": "abs(datum.value*2-round(datum.value*2))<0.001 ? format(datum.value,'.1f') : ''", "tickSize": {"condition": {"test": "abs(datum.value*2-round(datum.value*2))<0.001", "value": -5}, "value": -3}, "labelPadding": 11}},
   "y2": {"field": "hi"}, "color": {"condition": {"test": "datum.k==0", "value": "#ff0000"}, "value": "#0000ff"}}},
 {"data": {"name": "pts"}, "transform": [{"filter": "datum.p==6"}, {"fold": ["lo", "hi"], "as": ["end", "v"]}], "mark": {"type": "tick", "orient": "horizontal", "clip": true, "size": 6, "thickness": 1.2, "opacity": 0.8}, "encoding": {"y": {"field": "v", "type": "quantitative", "scale": {"domain": [-2.5, 0], "nice": false, "zero": false}, "axis": null}, "color": {"condition": {"test": "datum.k==0", "value": "#ff0000"}, "value": "#0000ff"}}},
 {"data": {"name": "pts"}, "transform": [{"filter": "datum.p==6"}], "mark": {"type": "point", "size": 12, "strokeWidth": 0.8, "opacity": 1, "clip": true}, "encoding": {"y": {"field": "y", "type": "quantitative", "scale": {"domain": [-2.5, 0], "nice": false, "zero": false}, "axis": null},
   "fill": {"field": "s", "type": "nominal", "scale": {"domain": ["F32P30", "F48P30", "Fit-Result"], "range": ["#ff0000", "#0000ff", "#333333"]}, "legend": {"orient": "none", "legendX": 224, "legendY": 11, "title": null, "symbolStrokeWidth": 1.3}},
   "stroke": {"field": "s", "type": "nominal", "scale": {"domain": ["F32P30", "F48P30", "Fit-Result"], "range": ["#ff0000", "#0000ff", "#333333"]}, "legend": {"orient": "none", "legendX": 224, "legendY": 11, "title": null, "symbolStrokeWidth": 1.3}},
   "shape": {"field": "s", "type": "nominal", "scale": {"domain": ["F32P30", "F48P30", "Fit-Result"], "range": ["triangle-up", "circle", "M-4.7,0H4.7"]}, "legend": {"orient": "none", "legendX": 224, "legendY": 11, "title": null, "symbolStrokeWidth": 1.3}}}},
 {"data": {"name": "fit"}, "transform": [{"filter": "datum.p==6"}], "mark": {"type": "area", "clip": true, "color": "#808080", "opacity": 0.5, "interpolate": "monotone"}, "encoding": {"y": {"field": "lo", "type": "quantitative", "scale": {"domain": [-2.5, 0], "nice": false, "zero": false}, "axis": null}, "y2": {"field": "hi"}}},
 {"data": {"name": "fit"}, "transform": [{"filter": "datum.p==6"}], "mark": {"type": "line", "clip": true, "color": "#333333", "strokeWidth": 1, "interpolate": "monotone"}, "encoding": {"y": {"field": "y", "type": "quantitative", "scale": {"domain": [-2.5, 0], "nice": false, "zero": false}, "axis": null}}},
 {"data": {"name": "ann"}, "transform": [{"filter": "datum.p==6"}], "mark": {"type": "text", "font": "Liberation Mono", "fontSize": 10, "color": "black"}, "encoding": {
   "x": {"field": "x", "type": "quantitative", "scale": {"domain": [-0.05, 0.3], "nice": false, "zero": false}, "axis": {"orient": "top", "values": [-0.05,-0.025,0,0.025,0.05,0.075,0.1,0.125,0.15,0.175,0.2,0.225,0.25,0.275,0.3], "labels": false, "title": null, "tickSize": {"condition": {"test": "abs(datum.value*10-round(datum.value*10))<0.001", "value": -5}, "value": -3}}},
   "y": {"field": "y", "type": "quantitative", "scale": {"domain": [-2.5, 0], "nice": false, "zero": false}, "axis": {"orient": "right", "values": [-2.5,-2.25,-2,-1.75,-1.5,-1.25,-1,-0.75,-0.5,-0.25,0], "labels": false, "title": null, "tickSize": {"condition": {"test": "abs(datum.value*2-round(datum.value*2))<0.001", "value": -5}, "value": -3}}},
   "text": {"field": "t"}}}
]
},
{
"width": 334, "height": 204,
"resolve": {"axis": {"x": "independent", "y": "independent"}},
"encoding": {"x": {"field": "x", "type": "quantitative", "scale": {"domain": [0, 0.3], "nice": false, "zero": false}, "axis": null}},
"layer": [
 {"data": {"name": "pts"}, "transform": [{"filter": "datum.p==7"}], "mark": {"type": "rule", "clip": true, "strokeWidth": 1.2, "opacity": 0.8}, "encoding": {
   "x": {"field": "x", "type": "quantitative", "title": "k²(GeV²)", "scale": {"domain": [0, 0.3], "nice": false, "zero": false}, "axis": {"orient": "bottom", "values": [0,0.05,0.1,0.15,0.2,0.25,0.3], "labelExpr": "abs(datum.value*10-round(datum.value*10))<0.001 ? format(datum.value,'.1f') : ''", "tickSize": {"condition": {"test": "abs(datum.value*10-round(datum.value*10))<0.001", "value": -5}, "value": -3}, "labelPadding": 9}},
   "y": {"field": "lo", "type": "quantitative", "title": "kcotδ(GeV)", "scale": {"domain": [-2.5, -0.5], "nice": false, "zero": false}, "axis": {"orient": "left", "values": [-2.5,-2.25,-2,-1.75,-1.5,-1.25,-1,-0.75,-0.5], "labelExpr": "abs(datum.value*2-round(datum.value*2))<0.001 ? format(datum.value,'.1f') : ''", "tickSize": {"condition": {"test": "abs(datum.value*2-round(datum.value*2))<0.001", "value": -5}, "value": -3}, "labelPadding": 11}},
   "y2": {"field": "hi"}, "color": {"condition": {"test": "datum.k==0", "value": "#ff0000"}, "value": "#0000ff"}}},
 {"data": {"name": "pts"}, "transform": [{"filter": "datum.p==7"}, {"fold": ["lo", "hi"], "as": ["end", "v"]}], "mark": {"type": "tick", "orient": "horizontal", "clip": true, "size": 6, "thickness": 1.2, "opacity": 0.8}, "encoding": {"y": {"field": "v", "type": "quantitative", "scale": {"domain": [-2.5, -0.5], "nice": false, "zero": false}, "axis": null}, "color": {"condition": {"test": "datum.k==0", "value": "#ff0000"}, "value": "#0000ff"}}},
 {"data": {"name": "pts"}, "transform": [{"filter": "datum.p==7"}], "mark": {"type": "point", "size": 12, "strokeWidth": 0.8, "opacity": 1, "clip": true}, "encoding": {"y": {"field": "y", "type": "quantitative", "scale": {"domain": [-2.5, -0.5], "nice": false, "zero": false}, "axis": null},
   "fill": {"field": "s", "type": "nominal", "scale": {"domain": ["F32P21", "F48P21", "Fit-Result"], "range": ["#ff0000", "#0000ff", "#333333"]}, "legend": {"orient": "none", "legendX": 232, "legendY": 12, "title": null, "symbolStrokeWidth": 1.3}},
   "stroke": {"field": "s", "type": "nominal", "scale": {"domain": ["F32P21", "F48P21", "Fit-Result"], "range": ["#ff0000", "#0000ff", "#333333"]}, "legend": {"orient": "none", "legendX": 232, "legendY": 12, "title": null, "symbolStrokeWidth": 1.3}},
   "shape": {"field": "s", "type": "nominal", "scale": {"domain": ["F32P21", "F48P21", "Fit-Result"], "range": ["triangle-up", "circle", "M-4.7,0H4.7"]}, "legend": {"orient": "none", "legendX": 232, "legendY": 12, "title": null, "symbolStrokeWidth": 1.3}}}},
 {"data": {"name": "fit"}, "transform": [{"filter": "datum.p==7"}], "mark": {"type": "area", "clip": true, "color": "#808080", "opacity": 0.5, "interpolate": "monotone"}, "encoding": {"y": {"field": "lo", "type": "quantitative", "scale": {"domain": [-2.5, -0.5], "nice": false, "zero": false}, "axis": null}, "y2": {"field": "hi"}}},
 {"data": {"name": "fit"}, "transform": [{"filter": "datum.p==7"}], "mark": {"type": "line", "clip": true, "color": "#333333", "strokeWidth": 1, "interpolate": "monotone"}, "encoding": {"y": {"field": "y", "type": "quantitative", "scale": {"domain": [-2.5, -0.5], "nice": false, "zero": false}, "axis": null}}},
 {"data": {"name": "ann"}, "transform": [{"filter": "datum.p==7"}], "mark": {"type": "text", "font": "Liberation Mono", "fontSize": 10, "color": "black"}, "encoding": {
   "x": {"field": "x", "type": "quantitative", "scale": {"domain": [0, 0.3], "nice": false, "zero": false}, "axis": {"orient": "top", "values": [0,0.05,0.1,0.15,0.2,0.25,0.3], "labels": false, "title": null, "tickSize": {"condition": {"test": "abs(datum.value*10-round(datum.value*10))<0.001", "value": -5}, "value": -3}}},
   "y": {"field": "y", "type": "quantitative", "scale": {"domain": [-2.5, -0.5], "nice": false, "zero": false}, "axis": {"orient": "right", "values": [-2.5,-2.25,-2,-1.75,-1.5,-1.25,-1,-0.75,-0.5], "labels": false, "title": null, "tickSize": {"condition": {"test": "abs(datum.value*2-round(datum.value*2))<0.001", "value": -5}, "value": -3}}},
   "text": {"field": "t"}}}
]
},
{
"width": 334, "height": 204,
"resolve": {"axis": {"x": "independent", "y": "independent"}},
"encoding": {"x": {"field": "x", "type": "quantitative", "scale": {"domain": [-0.074, 0.3], "nice": false, "zero": false}, "axis": null}},
"layer": [
 {"data": {"name": "pts"}, "transform": [{"filter": "datum.p==8"}], "mark": {"type": "rule", "clip": true, "strokeWidth": 1.2, "opacity": 0.8}, "encoding": {
   "x": {"field": "x", "type": "quantitative", "title": "k²(GeV²)", "scale": {"domain": [-0.074, 0.3], "nice": false, "zero": false}, "axis": {"orient": "bottom", "values": [-0.05,0,0.05,0.1,0.15,0.2,0.25,0.3], "labelExpr": "abs(datum.value*10-round(datum.value*10))<0.001 ? format(datum.value,'.1f') : ''", "tickSize": {"condition": {"test": "abs(datum.value*10-round(datum.value*10))<0.001", "value": -5}, "value": -3}, "labelPadding": 9}},
   "y": {"field": "lo", "type": "quantitative", "title": "kcotδ(GeV)", "scale": {"domain": [-2.5, -0.5], "nice": false, "zero": false}, "axis": {"orient": "left", "values": [-2.5,-2.25,-2,-1.75,-1.5,-1.25,-1,-0.75,-0.5], "labelExpr": "abs(datum.value*2-round(datum.value*2))<0.001 ? format(datum.value,'.1f') : ''", "tickSize": {"condition": {"test": "abs(datum.value*2-round(datum.value*2))<0.001", "value": -5}, "value": -3}, "labelPadding": 11}},
   "y2": {"field": "hi"}, "color": {"condition": {"test": "datum.k==0", "value": "#ff0000"}, "value": "#0000ff"}}},
 {"data": {"name": "pts"}, "transform": [{"filter": "datum.p==8"}, {"fold": ["lo", "hi"], "as": ["end", "v"]}], "mark": {"type": "tick", "orient": "horizontal", "clip": true, "size": 6, "thickness": 1.2, "opacity": 0.8}, "encoding": {"y": {"field": "v", "type": "quantitative", "scale": {"domain": [-2.5, -0.5], "nice": false, "zero": false}, "axis": null}, "color": {"condition": {"test": "datum.k==0", "value": "#ff0000"}, "value": "#0000ff"}}},
 {"data": {"name": "pts"}, "transform": [{"filter": "datum.p==8"}], "mark": {"type": "point", "size": 12, "strokeWidth": 0.8, "opacity": 1, "clip": true}, "encoding": {"y": {"field": "y", "type": "quantitative", "scale": {"domain": [-2.5, -0.5], "nice": false, "zero": false}, "axis": null},
   "fill": {"field": "s", "type": "nominal", "scale": {"domain": ["F32P30", "F48P30", "Fit-Result"], "range": ["#ff0000", "#0000ff", "#333333"]}, "legend": {"orient": "none", "legendX": 225, "legendY": 12, "title": null, "symbolStrokeWidth": 1.3}},
   "stroke": {"field": "s", "type": "nominal", "scale": {"domain": ["F32P30", "F48P30", "Fit-Result"], "range": ["#ff0000", "#0000ff", "#333333"]}, "legend": {"orient": "none", "legendX": 225, "legendY": 12, "title": null, "symbolStrokeWidth": 1.3}},
   "shape": {"field": "s", "type": "nominal", "scale": {"domain": ["F32P30", "F48P30", "Fit-Result"], "range": ["triangle-up", "circle", "M-4.7,0H4.7"]}, "legend": {"orient": "none", "legendX": 225, "legendY": 12, "title": null, "symbolStrokeWidth": 1.3}}}},
 {"data": {"name": "fit"}, "transform": [{"filter": "datum.p==8"}], "mark": {"type": "area", "clip": true, "color": "#808080", "opacity": 0.5, "interpolate": "monotone"}, "encoding": {"y": {"field": "lo", "type": "quantitative", "scale": {"domain": [-2.5, -0.5], "nice": false, "zero": false}, "axis": null}, "y2": {"field": "hi"}}},
 {"data": {"name": "fit"}, "transform": [{"filter": "datum.p==8"}], "mark": {"type": "line", "clip": true, "color": "#333333", "strokeWidth": 1, "interpolate": "monotone"}, "encoding": {"y": {"field": "y", "type": "quantitative", "scale": {"domain": [-2.5, -0.5], "nice": false, "zero": false}, "axis": null}}},
 {"data": {"name": "ann"}, "transform": [{"filter": "datum.p==8"}], "mark": {"type": "text", "font": "Liberation Mono", "fontSize": 10, "color": "black"}, "encoding": {
   "x": {"field": "x", "type": "quantitative", "scale": {"domain": [-0.074, 0.3], "nice": false, "zero": false}, "axis": {"orient": "top", "values": [-0.05,0,0.05,0.1,0.15,0.2,0.25,0.3], "labels": false, "title": null, "tickSize": {"condition": {"test": "abs(datum.value*10-round(datum.value*10))<0.001", "value": -5}, "value": -3}}},
   "y": {"field": "y", "type": "quantitative", "scale": {"domain": [-2.5, -0.5], "nice": false, "zero": false}, "axis": {"orient": "right", "values": [-2.5,-2.25,-2,-1.75,-1.5,-1.25,-1,-0.75,-0.5], "labels": false, "title": null, "tickSize": {"condition": {"test": "abs(datum.value*2-round(datum.value*2))<0.001", "value": -5}, "value": -3}}},
   "text": {"field": "t"}}}
]
}
]
}
